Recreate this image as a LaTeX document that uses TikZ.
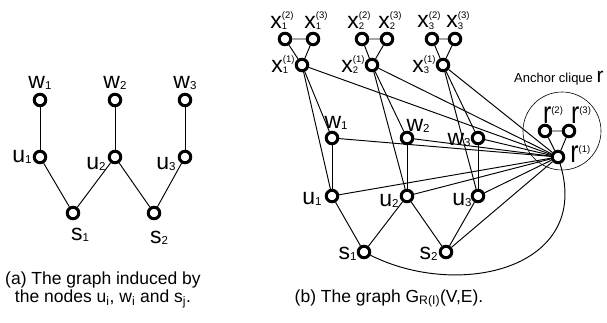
\documentclass[tikz,border=0pt]{standalone}
\usepackage{amsmath}
\usepackage{graphicx}
\usepackage{fontspec}
\setmainfont{Liberation Sans}
\usetikzlibrary{positioning}

\newcommand{\smallsz}{\fontsize{11.5}{11.5}\selectfont}
\newcommand{\tinysz}{\fontsize{9.5}{9.5}\selectfont}
\newcommand{\vsub}[2]{#1\raisebox{-1pt}{\smallsz #2}}
\newcommand{\vsupsub}[3]{#1\makebox[0pt][l]{\raisebox{-1.5pt}{\tinysz #2}}\raisebox{9.5pt}{\tinysz(#3)}}
\newcommand{\rlab}[1]{\scalebox{0.8}[1]{\fontsize{31}{31}\selectfont r}\raisebox{10pt}{\tinysz(#1)}}

\begin{document}
\begin{tikzpicture}[x=1pt, y=-1pt,
	every node/.style={font=\fontsize{23}{23}\selectfont},
	vtx/.style={circle, draw, fill=white, line width=3pt, minimum size=11.5pt, inner sep=0pt},
	lab/.style={inner sep=0pt},
	edge/.style={line width=0.95pt},
	capt/.style={inner sep=0pt, font=\fontsize{17.5}{18}\selectfont, align=center}]

	\useasboundingbox (0,0) rectangle (607,323);

	% === INDUCED GRAPH === (((
	\foreach \i/\x in {1/40,2/115,3/185} {
		\node [vtx] (aw\i) at (\x,100) {};
		\node [vtx] (au\i) at (\x,157) {};
		\node [lab, above=3pt of aw\i] (law\i) {\vsub{w}{\i}};
		\draw [edge] (aw\i) -- (au\i);
	}
	\node [vtx] (as1) at (73,213) {};
	\node [vtx] (as2) at (154,213) {};
	\draw [edge] (au1) -- (as1) -- (au2) -- (as2) -- (au3);
	\node [lab, left=1pt of au1] (lau1) {\vsub{u}{1}};
	\node [lab, left=2pt of au2, yshift=-7pt] (lau2) {\vsub{u}{2}};
	\node [lab, left=2pt of au3, yshift=-7pt] (lau3) {\vsub{u}{3}};
	\node [lab, below=8pt of as1, xshift=7pt] (las1) {\vsub{s}{1}};
	\node [lab, below=11pt of as2, xshift=5pt] (las2) {\vsub{s}{2}};
	\node [capt, anchor=north] (capa) at (103,272)
		{(a) The graph induced by\\the nodes u$_{\text{i}}$, w$_{\text{i}}$ and s$_{\text{j}}$.};
	% )))

	% === FULL GRAPH === (((
	\node [circle, draw, line width=0.6pt, minimum size=78pt] (anc) at (562,131) {};
	\foreach \i/\xa/\xb/\xc in {1/302/285/313, 2/372/362/387, 3/443/432/455} {
		\node [vtx] (xa\i) at (\xa,65) {};
		\node [vtx] (xb\i) at (\xb,39) {};
		\node [vtx] (xc\i) at (\xc,39) {};
		\draw [edge] (xa\i) -- (xb\i) -- (xc\i) -- (xa\i);
		\node [lab, left=0pt of xa\i] (lxa\i) {\vsupsub{x}{\i}{1}};
		\node [lab, above=2pt of xb\i, xshift=-3pt] (lxb\i) {\vsupsub{x}{\i}{2}};
		\node [lab, above=2pt of xc\i, xshift=3pt] (lxc\i) {\vsupsub{x}{\i}{3}};
	}
	\foreach \i/\x in {1/332,2/407,3/478} {
		\node [vtx] (w\i) at (\x,138) {};
		\node [vtx] (u\i) at (\x,196) {};
	}
	\node [vtx] (s1) at (364,252) {};
	\node [vtx] (s2) at (446,252) {};
	\node [vtx] (ra) at (558,157) {};
	\node [vtx] (rb) at (545,131) {};
	\node [vtx] (rc) at (569,131) {};

	\foreach \i in {1,2,3} {
		\draw [edge] (xa\i) -- (w\i);
		\draw [edge] (xa\i) -- (u\i);
		\draw [edge] (w\i) -- (u\i);
	}
	\draw [edge] (u1) -- (s1) -- (u2) -- (s2) -- (u3);
	\draw [edge] (ra) -- (rb) -- (rc) -- (ra);
	\foreach \n in {xa1,xa2,xa3,w1,w2,w3,u1,u2,u3,s2} \draw [edge] (\n) -- (ra);
	\draw [edge] (s1) .. controls (460,300) and (592,268) .. (ra);

	\node [lab, above=1pt of w1, xshift=4pt] (lw1) {\vsub{w}{1}};
	\node [lab, above=-2pt of w2, xshift=11pt] (lw2) {\vsub{w}{2}};
	\node [lab, left=0pt of w3, yshift=-2pt] (lw3) {\vsub{w}{3}};
	\node [lab, left=3pt of u1, yshift=-3pt] (lu1) {\vsub{u}{1}};
	\node [lab, left=1pt of u2, yshift=-5pt] (lu2) {\vsub{u}{2}};
	\node [lab, left=-1pt of u3, yshift=-4pt] (lu3) {\vsub{u}{3}};
	\node [lab, left=0pt of s1, yshift=-2pt] (ls1) {\vsub{s}{1}};
	\node [lab, left=1pt of s2, yshift=-2pt] (ls2) {\vsub{s}{2}};
	\node [lab, right=5pt of ra, yshift=3pt] (lra) {\rlab{1}};
	\node [lab, above=0pt of rb, xshift=8pt] (lrb) {\rlab{2}};
	\node [lab, above=0pt of rc, xshift=12pt] (lrc) {\rlab{3}};
	\node [lab, anchor=base west, font=\fontsize{13}{13}\selectfont] (lanc) at (514,83)
		{Anchor clique {\fontsize{21}{21}\selectfont r}};
	\node [capt, anchor=base] (capb) at (389,302) {(b) The graph G$_{\text{R(I)}}$(V,E).};
	% )))

\end{tikzpicture}
\end{document}
